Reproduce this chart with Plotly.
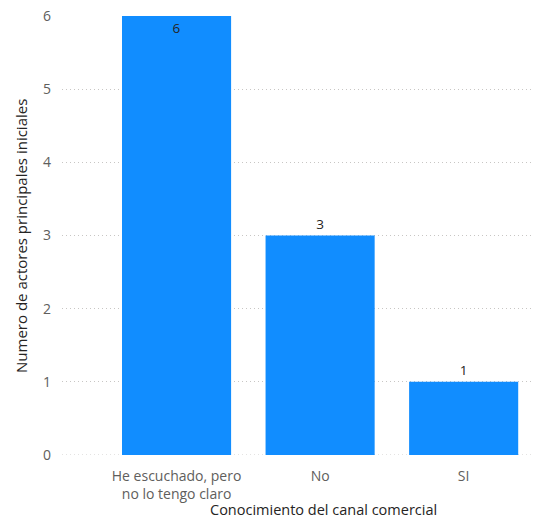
import plotly.graph_objects as go

# Respuestas sobre el conocimiento del canal comercial
categorias = ["He escuchado, pero<br>no lo tengo claro", "No", "SI"]
actores = [6, 3, 1]
posicion_texto = ["inside", "outside", "outside"]
ticks_y = [0, 1, 2, 3, 4, 5, 6]

AZUL = "#118DFF"
GRIS_TEXTO = "#605E5C"
OSCURO = "#252423"
GRIS_REJILLA = "#C8C6C4"
FUENTE = "Open Sans, DejaVu Sans, sans-serif"

fig = go.Figure(
    go.Bar(
        x=categorias,
        y=actores,
        marker=dict(color=AZUL, line=dict(width=0)),
        text=[str(v) for v in actores],
        textposition=posicion_texto,
        insidetextanchor="end",
        textfont=dict(family=FUENTE, size=13.5, color=OSCURO),
        cliponaxis=False,
        width=0.76,
    )
)

fig.update_layout(
    width=534,
    height=520,
    margin=dict(l=62, r=0, t=16, b=65),
    paper_bgcolor="white",
    plot_bgcolor="white",
    showlegend=False,
    font=dict(family=FUENTE, size=14, color=GRIS_TEXTO),
    xaxis=dict(
        range=[-0.798, 2.49],
        showgrid=False,
        showline=False,
        zeroline=False,
        ticks="",
        tickfont=dict(family=FUENTE, size=14, color=GRIS_TEXTO),
        ticklabelstandoff=11,
    ),
    yaxis=dict(
        range=[0, 6],
        tickvals=ticks_y,
        showgrid=True,
        gridcolor=GRIS_REJILLA,
        griddash="1px,3px",
        gridwidth=1,
        zeroline=False,
        showline=False,
        ticks="",
        ticklabelstandoff=10,
        tickfont=dict(family=FUENTE, size=14, color=GRIS_TEXTO),
    ),
    annotations=[
        dict(
            text="Numero de actores principales iniciales",
            xref="paper", yref="paper",
            x=-0.088, y=0.5,
            xanchor="center", yanchor="middle",
            textangle=-90, showarrow=False,
            font=dict(family=FUENTE, size=15, color=OSCURO),
        ),
        dict(
            text="Conocimiento del canal comercial",
            xref="paper", yref="paper",
            x=0.555, y=0, yshift=-66,
            xanchor="center", yanchor="bottom",
            showarrow=False,
            font=dict(family=FUENTE, size=14.5, color=OSCURO),
        ),
    ],
)

# línea base punteada en cero
fig.add_shape(
    type="line", xref="paper", yref="y",
    x0=0, x1=1, y0=0, y1=0,
    line=dict(color=GRIS_REJILLA, width=1, dash="1px,3px"),
    layer="below",
)

fig.write_html("out.html")
